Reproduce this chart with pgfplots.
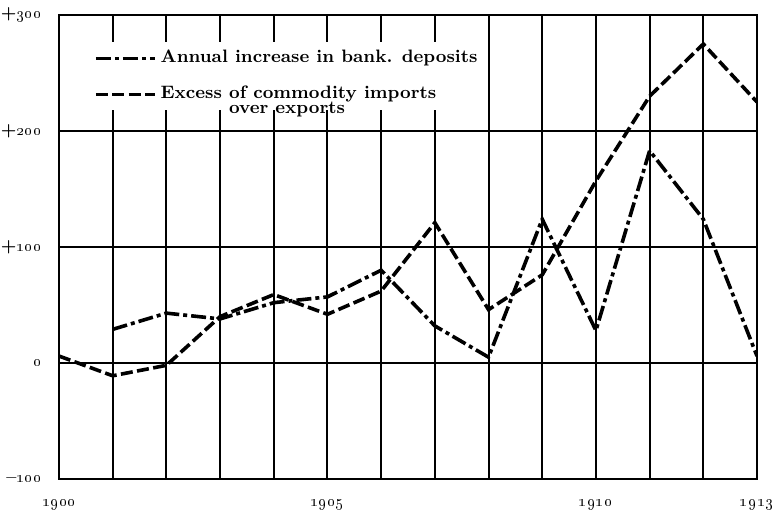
\documentclass[border=0pt]{standalone}
\usepackage{pgfplots}
\pgfplotsset{compat=1.18}
\begin{document}
\begin{tikzpicture}
\path[use as bounding box] (0,0) rectangle (388.5pt,257.5pt);
\begin{axis}[
  at={(29.5pt,18pt)}, anchor=south west,
  scale only axis, width=349pt, height=232pt,
  xmin=1900, xmax=1913, ymin=-100, ymax=300,
  xtick={1900,1901,...,1913},
  xticklabels={\oldstylenums{1900},,,,,\oldstylenums{1905},,,,,\oldstylenums{1910},,,\oldstylenums{1913}},
  ytick={-100,0,100,200,300},
  yticklabels={--\oldstylenums{100},\oldstylenums{0},+\oldstylenums{100},+\oldstylenums{200},+\oldstylenums{300}},
  major tick length=0pt,
  axis line style={line width=1.4pt},
  xmajorgrids, ymajorgrids,
  x grid style={black, line width=1pt},
  y grid style={black, line width=1.4pt},
  ticklabel style={font=\bfseries\fontsize{8.5}{10}\selectfont},
  xticklabel style={yshift=-7pt},
  yticklabel style={xshift=-5pt},
  legend style={at={(0.044,0.942)}, anchor=north west, draw=none, fill=white,
    font=\bfseries\fontsize{9}{11}\selectfont, row sep=4.8pt, inner sep=2pt,
    cells={anchor=base west, inner xsep=1pt}},
  legend image code/.code={\draw[#1] (0pt,2.3pt) -- (29.5pt,2.3pt);},
]
\addplot[black, line width=1.8pt, dash pattern=on 7.5pt off 2pt on 2pt off 2pt]
  coordinates {(1901,29) (1902,43) (1903,38) (1904,52) (1905,57) (1906,80)
  (1907,32) (1908,5) (1909,124) (1910,28) (1911,183) (1912,124) (1913,6)};
\addlegendentry{Annual increase in bank. deposits}
\addplot[black, line width=1.8pt, dash pattern=on 6pt off 2.2pt]
  coordinates {(1900,6) (1901,-11) (1902,-2) (1903,40) (1904,59) (1905,42) (1906,62)
  (1907,121) (1908,46) (1909,76) (1910,157) (1911,230) (1912,275) (1913,225)};
\addlegendentry{\begin{tabular}[t]{@{}l@{}}Excess of commodity imports\\[-3.5pt]\hphantom{Excess }over exports\end{tabular}}
\end{axis}
\end{tikzpicture}
\end{document}
